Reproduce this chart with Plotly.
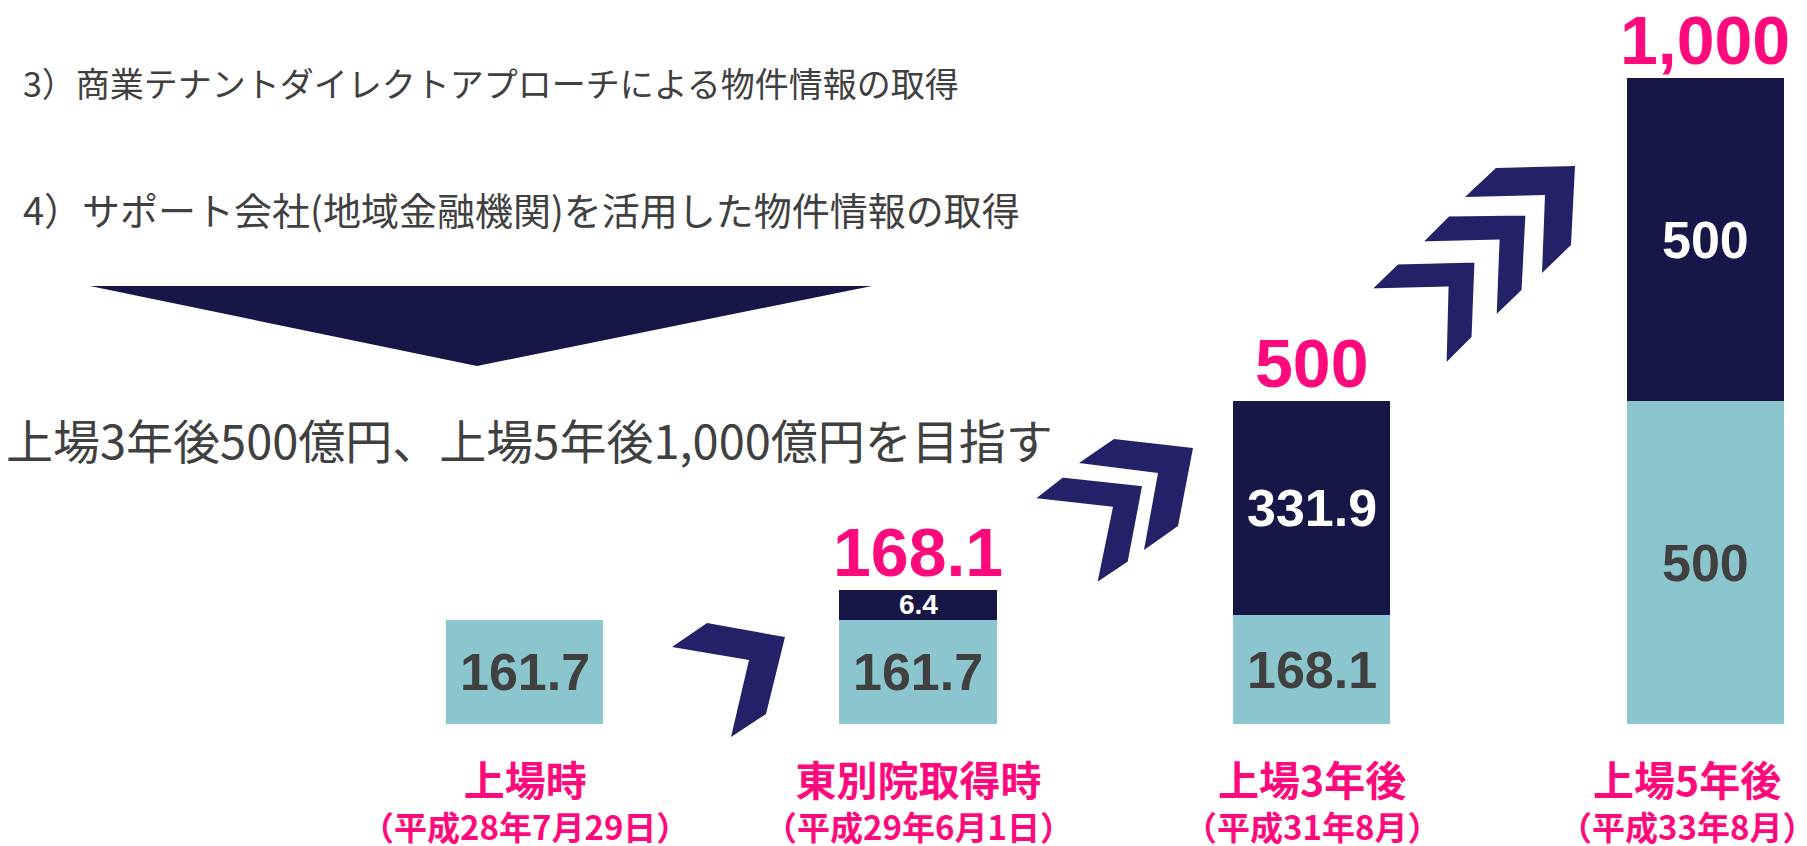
import plotly.graph_objects as go

# ---------------- data ----------------
categories = ["上場時", "東別院取得時", "上場3年後", "上場5年後"]
sub_labels = ["（平成28年7月29日）", "（平成29年6月1日）", "（平成31年8月）", "（平成33年8月）"]
base_values = [161.7, 161.7, 168.1, 500]          # light segment
added_values = [None, 6.4, 331.9, 500]            # dark segment
total_labels = [None, "168.1", "500", "1,000"]
base_labels = ["161.7", "161.7", "168.1", "500"]
added_labels = [None, "6.4", "331.9", "500"]

text_lines = [
    "3）商業テナントダイレクトアプローチによる物件情報の取得",
    "4）サポート会社(地域金融機関)を活用した物件情報の取得",
    "上場3年後500億円、上場5年後1,000億円を目指す",
]

# ---------------- style ----------------
W, H = 1807, 846
LIGHT = "#8BC6CE"
DARK = "#171747"
CHEV = "#232268"
PINK = "#FF0A7C"
GRAY = "#404040"
MIN_VISIBLE = 46  # smallest drawn segment height (the reference enlarges tiny segments)
label_xshift = [0, 0, 0, -18]

added_draw = [None if v is None else max(v, MIN_VISIBLE) for v in added_values]

fig = go.Figure()
fig.add_trace(go.Bar(x=categories, y=base_values, marker=dict(color=LIGHT, line=dict(width=0)),
                     width=0.4, hoverinfo="skip", textposition="none"))
fig.add_trace(go.Bar(x=categories, y=added_draw, marker=dict(color=DARK, line=dict(width=0)),
                     width=0.4, hoverinfo="skip", textposition="none"))

ann = []
for i, c in enumerate(categories):
    b = base_values[i]
    ann.append(dict(x=c, y=b / 2, xref="x", yref="y", text=f"<b>{base_labels[i]}</b>", showarrow=False,
                    font=dict(family="Liberation Sans", size=52, color=GRAY), yanchor="middle"))
    if added_values[i] is not None:
        a = added_draw[i]
        sz = 28 if added_values[i] < 20 else 52
        ann.append(dict(x=c, y=b + a / 2, xref="x", yref="y", text=f"<b>{added_labels[i]}</b>", showarrow=False,
                        font=dict(family="Liberation Sans", size=sz, color="white"), yanchor="middle"))
        ann.append(dict(x=c, y=b + a, xref="x", yref="y", text=f"<b>{total_labels[i]}</b>", showarrow=False,
                        font=dict(family="Liberation Sans", size=68, color=PINK), yanchor="middle", yshift=38))
    label = (f"<span style='font-size:41px'><b>{c}</b></span><br>"
             f"<span style='font-size:33px'><b>{sub_labels[i]}</b></span>")
    ann.append(dict(x=c, y=0, xref="x", yref="y", text=label, showarrow=False,
                    font=dict(family="Noto Sans CJK JP", size=34, color=PINK), yanchor="top", yshift=-22,
                    xshift=label_xshift[i]))

line_pos = [(21, 83, 34), (21, 208, 38), (4, 438, 47)]
for t, (px, py, fs) in zip(text_lines, line_pos):
    ann.append(dict(x=px / W, y=1 - py / H, xref="paper", yref="paper", text=t, showarrow=False,
                    xanchor="left", yanchor="middle", font=dict(family="Noto Sans CJK JP", size=fs, color=GRAY)))


def path(pts):
    s = "M " + " L ".join(f"{x / W:.5f},{1 - y / H:.5f}" for x, y in pts) + " Z"
    return s


shapes = []
# big downward triangle
shapes.append(dict(type="path", xref="paper", yref="paper",
                   path=path([(90, 286), (872, 286), (477, 366)]), fillcolor=DARK, line=dict(width=0)))
# chevrons: (points, outlined?)
chevrons = [
    ([(672, 647), (707, 623), (785, 637), (766, 714), (731, 737), (749, 660)], False),
    ([(1079, 463), (1114, 439), (1193, 448), (1178, 526), (1144, 550), (1158, 473)], False),
    ([(1030, 500), (1062, 475), (1145, 484), (1130, 563), (1094, 587), (1110, 509)], True),
    ([(1465, 197), (1496, 168), (1575, 166), (1571, 245), (1542, 273), (1545, 195)], False),
    ([(1418, 244), (1448, 214), (1528, 213), (1524, 291), (1494, 320), (1497, 242)], True),
    ([(1367, 291), (1397, 262), (1477, 260), (1474, 338), (1444, 368), (1446, 289)], True),
]
for pts, outline in chevrons:
    shapes.append(dict(type="path", xref="paper", yref="paper", path=path(pts), fillcolor=CHEV,
                       line=dict(color="white", width=5 if outline else 0)))

px_per_unit = 0.646
y_zero_px = 724
y_top = y_zero_px / px_per_unit
y_bot = -(H - y_zero_px) / px_per_unit
x_first_px, x_step_px = 524.5, 393.6
x_lo = -x_first_px / x_step_px
x_hi = (W - x_first_px) / x_step_px

fig.update_layout(
    barmode="stack", width=W, height=H, margin=dict(l=0, r=0, t=0, b=0),
    paper_bgcolor="white", plot_bgcolor="white", showlegend=False,
    xaxis=dict(range=[x_lo, x_hi], visible=False, type="category"),
    yaxis=dict(range=[y_bot, y_top], visible=False),
    annotations=ann, shapes=shapes,
)
fig.write_html("out.html", config={"displayModeBar": False},
               post_script="document.body.style.margin='0px';")
